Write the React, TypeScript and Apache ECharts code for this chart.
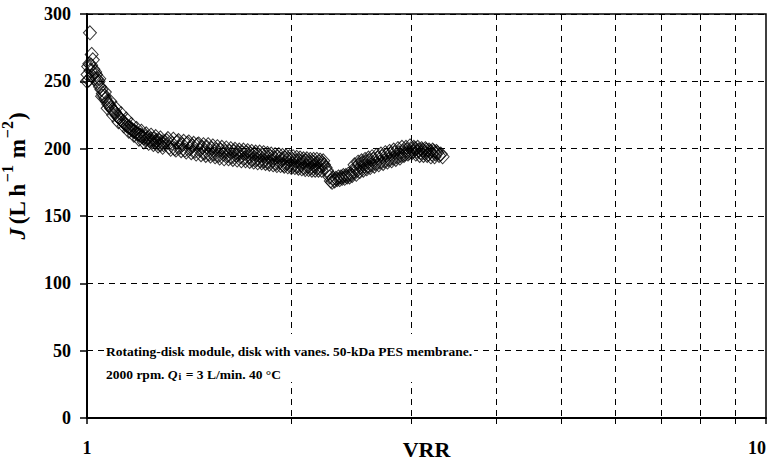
import React, { useEffect, useRef } from "react";
import * as echarts from "echarts";

// VRR (x) and permeate flux J in L h^-1 m^-2 (y)
const initialCluster: [number, number][] = [
  [1.0, 250], [1.002, 255], [1.004, 261], [1.006, 251], [1.008, 263], [1.01, 286],
  [1.012, 258], [1.014, 262], [1.016, 270], [1.018, 254], [1.02, 266], [1.022, 259],
  [1.025, 252], [1.028, 257], [1.031, 255], [1.034, 252], [1.037, 249],
];

const declinePhase: [number, number][] = [
  [1.04, 250], [1.045, 246], [1.05, 244], [1.055, 241], [1.06, 239], [1.065, 237],
  [1.07, 235], [1.075, 233], [1.08, 232], [1.085, 230], [1.09, 229], [1.095, 228],
  [1.1, 227], [1.105, 225], [1.11, 224], [1.115, 223], [1.12, 222], [1.125, 221],
  [1.13, 220], [1.135, 219], [1.14, 218], [1.145, 217], [1.15, 216], [1.155, 216],
  [1.16, 215], [1.165, 214], [1.17, 213], [1.175, 213], [1.18, 212], [1.185, 211],
  [1.19, 211], [1.195, 210], [1.2, 210], [1.206, 209], [1.212, 208], [1.218, 209],
  [1.224, 207], [1.23, 208], [1.236, 206], [1.242, 207], [1.248, 205], [1.254, 207],
  [1.26, 205], [1.266, 206], [1.272, 204], [1.278, 206], [1.284, 203], [1.29, 205],
  [1.296, 203], [1.302, 205],
];

const declinePhaseB: [number, number][] = [
  [1.0425, 252], [1.0525, 239], [1.0625, 242], [1.0725, 230], [1.0825, 235], [1.0925, 225],
  [1.1025, 230], [1.1125, 220], [1.1225, 226], [1.1325, 217], [1.1425, 222], [1.1525, 213],
  [1.1625, 218], [1.1725, 210], [1.1825, 215], [1.1925, 207], [1.2025, 213], [1.2125, 205],
  [1.2225, 211], [1.2325, 204], [1.2425, 210], [1.2525, 203], [1.2625, 209], [1.2725, 202],
  [1.2825, 208], [1.2925, 201],
];

const plateauPhase: [number, number][] = [
  [1.31, 206], [1.322, 201], [1.334, 204], [1.346, 200], [1.358, 205], [1.37, 201],
  [1.382, 203], [1.394, 199], [1.406, 204], [1.418, 200], [1.43, 202], [1.442, 198],
  [1.454, 203], [1.466, 199], [1.478, 201], [1.49, 197], [1.502, 201], [1.514, 196],
  [1.526, 200], [1.538, 196], [1.55, 199], [1.562, 195], [1.574, 199], [1.586, 196],
  [1.598, 198], [1.61, 195], [1.622, 198], [1.634, 194], [1.646, 198], [1.658, 195],
  [1.67, 197], [1.682, 194], [1.694, 197], [1.706, 193], [1.718, 197], [1.73, 194],
  [1.742, 196], [1.754, 192], [1.766, 196], [1.778, 192], [1.79, 195], [1.802, 191],
  [1.814, 195], [1.826, 191], [1.838, 194], [1.85, 190], [1.862, 194], [1.874, 191],
  [1.886, 193], [1.898, 189], [1.91, 194], [1.922, 190], [1.934, 192], [1.946, 188],
  [1.958, 193], [1.97, 189], [1.982, 192], [1.994, 188], [2.006, 192], [2.018, 188],
  [2.03, 191], [2.042, 187], [2.054, 191], [2.066, 188], [2.078, 190], [2.09, 186],
  [2.102, 191], [2.114, 187], [2.126, 190], [2.138, 186], [2.15, 190], [2.162, 187],
  [2.174, 189], [2.186, 186], [2.198, 190], [2.21, 187], [2.222, 189], [2.234, 188],
];

const plateauPhaseB: [number, number][] = [
  [1.316, 207.5], [1.328, 199.5], [1.34, 207], [1.352, 199], [1.364, 206], [1.376, 198.5],
  [1.388, 205.5], [1.4, 197.5], [1.412, 205], [1.424, 197], [1.436, 204], [1.448, 196],
  [1.46, 203.5], [1.472, 195.5], [1.484, 203], [1.496, 195], [1.508, 203], [1.52, 194.5],
  [1.532, 202], [1.544, 194], [1.556, 201.5], [1.568, 193], [1.58, 201], [1.592, 192.5],
  [1.604, 200.5], [1.616, 192.5], [1.628, 200], [1.64, 192], [1.652, 199.5], [1.664, 191.5],
  [1.676, 199], [1.688, 191], [1.7, 199], [1.712, 191], [1.724, 198.5], [1.736, 190.5],
  [1.748, 198], [1.76, 190], [1.772, 197.5], [1.784, 189.5], [1.796, 197.5], [1.808, 189.5],
  [1.82, 197], [1.832, 189], [1.844, 196.5], [1.856, 188.5], [1.868, 196], [1.88, 188],
  [1.892, 195.5], [1.904, 187.5], [1.916, 195.5], [1.928, 187.5], [1.94, 195], [1.952, 187],
  [1.964, 194.5], [1.976, 186.5], [1.988, 194], [2.0, 186], [2.012, 194], [2.024, 186],
  [2.036, 193.5], [2.048, 185.5], [2.06, 193], [2.072, 185], [2.084, 192.5], [2.096, 184.5],
  [2.108, 192.5], [2.12, 184.5], [2.132, 192], [2.144, 184], [2.156, 192], [2.168, 184],
  [2.18, 192], [2.192, 184], [2.204, 191.5], [2.216, 184], [2.228, 191],
];

const dipPhase: [number, number][] = [
  [2.246, 186], [2.256, 184], [2.266, 182], [2.276, 179], [2.286, 176], [2.296, 175],
  [2.306, 178], [2.316, 176], [2.326, 178], [2.336, 177], [2.346, 179], [2.356, 177],
  [2.366, 179], [2.376, 178], [2.386, 180], [2.396, 178], [2.406, 180], [2.416, 179],
  [2.426, 181], [2.436, 179], [2.446, 181], [2.458, 180],
];

const recoveryPhase: [number, number][] = [
  [2.47, 183], [2.485, 186], [2.5, 184], [2.515, 188], [2.53, 186], [2.545, 189],
  [2.56, 187], [2.575, 190], [2.59, 187], [2.605, 191], [2.62, 188], [2.64, 192],
  [2.66, 189], [2.68, 193], [2.7, 190], [2.72, 194], [2.74, 191], [2.76, 195],
  [2.78, 192], [2.8, 196], [2.82, 193], [2.84, 197], [2.86, 194], [2.88, 197],
  [2.9, 195], [2.92, 198], [2.94, 196], [2.96, 199], [2.98, 197], [3.0, 200],
  [3.02, 198], [3.04, 200], [3.06, 198], [3.08, 199], [3.1, 197], [3.12, 199],
  [3.14, 197], [3.16, 199], [3.18, 196], [3.2, 198], [3.22, 196], [3.24, 198],
  [3.26, 196], [3.28, 197], [3.3, 195], [3.32, 196], [3.34, 194],
];

const recoveryPhaseB: [number, number][] = [
  [2.4775, 188], [2.4925, 181], [2.5075, 190], [2.5225, 183], [2.5375, 191], [2.5525, 184],
  [2.5675, 192], [2.5825, 185], [2.5975, 193], [2.6125, 186], [2.63, 194], [2.65, 187],
  [2.67, 195], [2.69, 188], [2.71, 196], [2.73, 189], [2.75, 197], [2.77, 190],
  [2.79, 198], [2.81, 191], [2.83, 199], [2.85, 192], [2.87, 200], [2.89, 193],
  [2.91, 201], [2.93, 195], [2.95, 201], [2.97, 196], [2.99, 202], [3.01, 197],
  [3.03, 201], [3.05, 196], [3.07, 201], [3.09, 195], [3.11, 200], [3.13, 195],
  [3.15, 200], [3.17, 195], [3.19, 199], [3.21, 194], [3.23, 199], [3.25, 194],
  [3.27, 198],
];

const xMin = 1;
const xMax = 10;
const yMin = 0;
const yMax = 300;
const yInterval = 50;

const annotationLine1 = "Rotating-disk module, disk with vanes. 50-kDa PES membrane.";
const annotationLine2Parts = ["2000 rpm. ", "Q", "i", " = 3 L/min. 40 °C"];

const SERIF = "'Liberation Serif', 'Times New Roman', serif";

export default function App() {
  const ref = useRef<HTMLDivElement>(null);

  useEffect(() => {
    if (!ref.current) return;
    const chart = echarts.init(ref.current, undefined, { renderer: "svg" });
    const data = [
      ...initialCluster,
      ...declinePhase,
      ...declinePhaseB,
      ...plateauPhase,
      ...plateauPhaseB,
      ...dipPhase,
      ...recoveryPhase,
      ...recoveryPhaseB,
    ];
    const dashed = { color: "#000", width: 1, type: [6, 5] as number[] };
    chart.setOption({
      animation: false,
      backgroundColor: "#fff",
      grid: {
        left: 87,
        right: 6,
        top: 14,
        bottom: 48,
        show: true,
        borderColor: "#000",
        borderWidth: 1.5,
        backgroundColor: "transparent",
        containLabel: false,
        outerBoundsMode: "none",
      },
      xAxis: {
        type: "log",
        logBase: 10,
        min: xMin,
        max: xMax,
        name: "VRR",
        nameLocation: "middle",
        nameGap: 20,
        nameMoveOverlap: false,
        nameTextStyle: {
          fontFamily: SERIF,
          fontWeight: "bold",
          fontSize: 22,
          color: "#000",
          verticalAlign: "top",
        },
        axisLine: { show: true, onZero: false, lineStyle: { color: "#000", width: 2 } },
        axisTick: { show: true, length: 6, lineStyle: { color: "#000", width: 1.5 } },
        minorTick: { show: true, splitNumber: 9, length: 6, lineStyle: { color: "#000", width: 1 } },
        minorSplitLine: { show: true, lineStyle: dashed },
        splitLine: { show: false },
        axisLabel: {
          fontFamily: SERIF,
          fontWeight: "bold",
          fontSize: 18,
          color: "#000",
          margin: 21,
          alignMaxLabel: "right",
        },
      },
      yAxis: {
        type: "value",
        min: yMin,
        max: yMax,
        interval: yInterval,
        name: "{i|J} {n|(L h}{s|−1}{n| m}{s|−2}{n|)}",
        nameLocation: "middle",
        nameGap: 58,
        nameRotate: 90,
        nameTextStyle: {
          color: "#000",
          padding: [0, 0, 0, 80],
          rich: {
            i: { fontFamily: SERIF, fontWeight: "bold", fontStyle: "italic", fontSize: 23, color: "#000", lineHeight: 30, verticalAlign: "bottom" },
            n: { fontFamily: SERIF, fontWeight: "bold", fontSize: 23, color: "#000", lineHeight: 30, verticalAlign: "bottom" },
            s: { fontFamily: SERIF, fontWeight: "bold", fontSize: 16, color: "#000", lineHeight: 30, verticalAlign: "top", padding: [0, 1, 0, 1] },
          },
        },
        axisLine: { show: true, lineStyle: { color: "#000", width: 2 } },
        axisTick: { show: true, length: 7, lineStyle: { color: "#000", width: 1.5 } },
        splitLine: { show: true, lineStyle: dashed },
        axisLabel: {
          fontFamily: SERIF,
          fontWeight: "bold",
          fontSize: 18,
          color: "#000",
          margin: 16,
        },
      },
      series: [
        {
          type: "scatter",
          symbol: "diamond",
          symbolSize: [13, 14],
          data,
          itemStyle: {
            color: "rgba(255,255,255,0)",
            borderColor: "#000",
            borderWidth: 1,
          },
          emphasis: { disabled: true },
        },
      ],
      graphic: [
        {
          type: "text",
          left: 104,
          top: 334,
          z: 10,
          style: {
            text:
              "{b|" + annotationLine1 + "}\n" +
              "{b|" + annotationLine2Parts[0] + "}{bi|" + annotationLine2Parts[1] + "}{sub|" + annotationLine2Parts[2] + "}{b|" + annotationLine2Parts[3] + "}",
            backgroundColor: "#fff",
            padding: [1, 2, 1, 2],
            rich: {
              b: { fontFamily: SERIF, fontWeight: "bold", fontSize: 13.5, fill: "#000", lineHeight: 23, verticalAlign: "bottom" },
              bi: { fontFamily: SERIF, fontWeight: "bold", fontStyle: "italic", fontSize: 13.5, fill: "#000", lineHeight: 23, verticalAlign: "bottom" },
              sub: { fontFamily: SERIF, fontWeight: "bold", fontSize: 10, fill: "#000", lineHeight: 23, verticalAlign: "bottom", padding: [0, 1, 0, 1] },
            },
          },
        },
      ],
    });
    return () => chart.dispose();
  }, []);

  return (
    <div
      ref={ref}
      style={{ position: "absolute", left: 0, top: 0, width: 772, height: 466 }}
    />
  );
}
